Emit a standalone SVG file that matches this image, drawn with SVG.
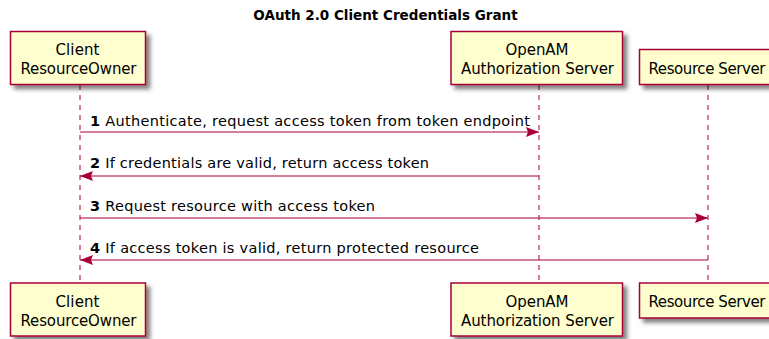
<svg xmlns="http://www.w3.org/2000/svg" width="769" height="339" viewBox="0 0 769 339">
<defs>
<filter id="sh" x="-10%" y="-10%" width="130%" height="140%">
<feGaussianBlur in="SourceAlpha" stdDeviation="2"/>
<feOffset dx="4" dy="4" result="b"/>
<feComponentTransfer><feFuncA type="linear" slope="0.5"/></feComponentTransfer>
<feMerge><feMergeNode/><feMergeNode in="SourceGraphic"/></feMerge>
</filter>
<marker id="ah" markerWidth="13" markerHeight="10" refX="13" refY="5" orient="auto" markerUnits="userSpaceOnUse">
<path d="M0,0 L13,5 L0,10 L2,5 Z" fill="#A80036"/>
</marker>
</defs>
<style>
.box{fill:#FEFECE;stroke:#A80036;stroke-width:1.5;filter:url(#sh)}
.pt{font-family:"DejaVu Sans","Liberation Sans",sans-serif;font-size:15px;fill:#000;text-anchor:middle}
.life{stroke:#A80036;stroke-width:1;stroke-dasharray:5,5;fill:none}
.msg{stroke:#A80036;stroke-width:1;fill:none}
.lbl{font-family:"DejaVu Sans","Liberation Sans",sans-serif;font-size:14.5px;fill:#000}
.num{font-weight:bold}
.title{font-family:"DejaVu Sans","Liberation Sans",sans-serif;font-size:13.5px;font-weight:bold;text-anchor:middle;fill:#000}
</style>
<rect width="769" height="339" fill="#fff"/>
<text class="title" x="385.5" y="20">OAuth 2.0 Client Credentials Grant</text>
<g id="lifelines">
<line class="life" x1="80" y1="85" x2="80" y2="283"/>
<line class="life" x1="539" y1="85" x2="539" y2="283"/>
<line class="life" x1="708" y1="85" x2="708" y2="283"/>
</g>
<g id="client">
<rect class="box" x="10.5" y="31.5" width="135" height="53"/>
<text class="pt" x="77.5" y="55" textLength="44">Client</text>
<text class="pt" x="78.5" y="74" textLength="116">ResourceOwner</text>
</g>
<g id="openam">
<rect class="box" x="451" y="31.5" width="171.5" height="53"/>
<text class="pt" x="537" y="55" textLength="63">OpenAM</text>
<text class="pt" x="537.5" y="74" textLength="153">Authorization Server</text>
</g>
<g id="resource">
<rect class="box" x="639.5" y="49.5" width="134" height="35"/>
<text class="pt" x="707" y="74" textLength="117">Resource Server</text>
</g>
<g id="client-bottom">
<rect class="box" x="10.5" y="283" width="135" height="53"/>
<text class="pt" x="77.5" y="306.5" textLength="44">Client</text>
<text class="pt" x="78.5" y="325.5" textLength="116">ResourceOwner</text>
</g>
<g id="openam-bottom">
<rect class="box" x="451" y="283" width="171.5" height="53"/>
<text class="pt" x="537" y="306.5" textLength="63">OpenAM</text>
<text class="pt" x="537.5" y="325.5" textLength="153">Authorization Server</text>
</g>
<g id="resource-bottom">
<rect class="box" x="639.5" y="283" width="134" height="35"/>
<text class="pt" x="707" y="306.5" textLength="117">Resource Server</text>
</g>
<g id="connectors">
<line class="msg" x1="80" y1="132" x2="539" y2="132" marker-end="url(#ah)"/>
<text class="lbl" x="90" y="126" textLength="440"><tspan class="num">1</tspan> Authenticate, request access token from token endpoint</text>
<line class="msg" x1="539" y1="176" x2="80" y2="176" marker-end="url(#ah)"/>
<text class="lbl" x="90" y="168" textLength="339"><tspan class="num">2</tspan> If credentials are valid, return access token</text>
<line class="msg" x1="80" y1="218" x2="708" y2="218" marker-end="url(#ah)"/>
<text class="lbl" x="90" y="211" textLength="285"><tspan class="num">3</tspan> Request resource with access token</text>
<line class="msg" x1="708" y1="260" x2="80" y2="260" marker-end="url(#ah)"/>
<text class="lbl" x="90" y="253" textLength="389"><tspan class="num">4</tspan> If access token is valid, return protected resource</text>
</g>
</svg>
